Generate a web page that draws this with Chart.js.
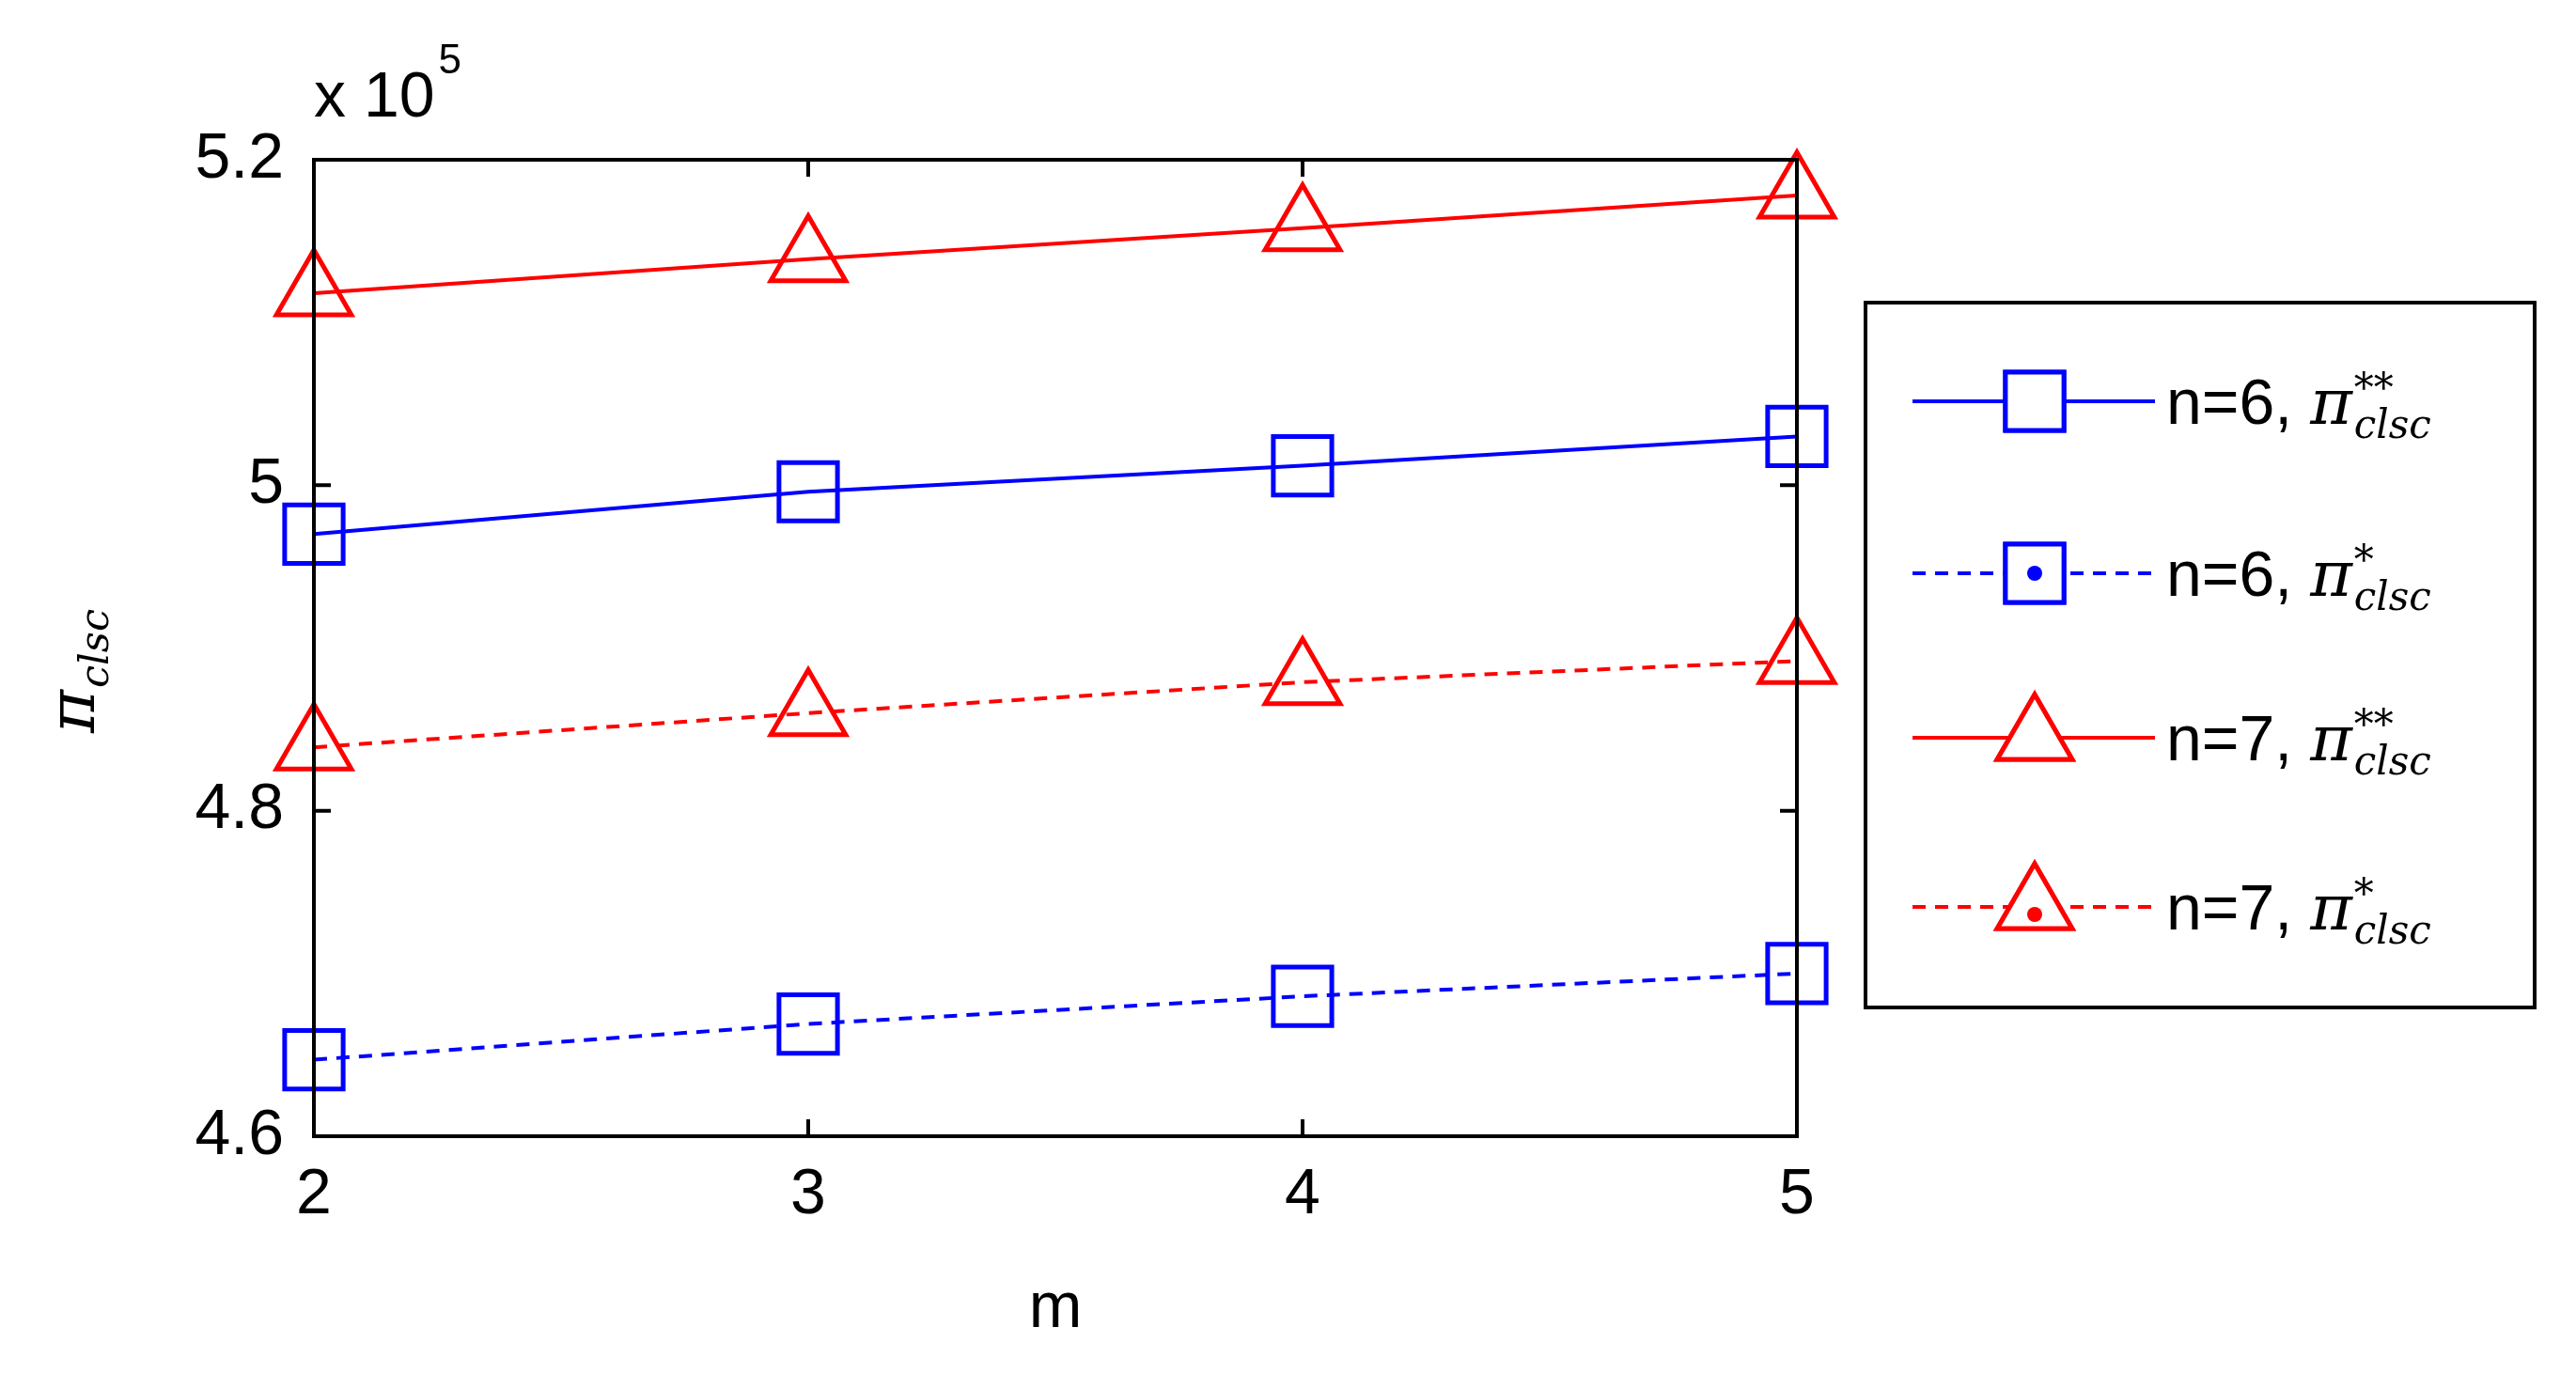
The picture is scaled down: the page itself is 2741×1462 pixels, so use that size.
<!DOCTYPE html>
<html>
<head>
<meta charset="utf-8">
<script src="https://cdn.jsdelivr.net/npm/chart.js@4"></script>
<style>
  html, body { margin: 0; padding: 0; background: #fff; }
  #wrap { width: 2741px; height: 1462px; }
</style>
</head>
<body>
<div id="wrap"><canvas id="chart"></canvas></div>
<script>
const mValues = [2, 3, 4, 5];
const yTicks = [4.6, 4.8, 5.0, 5.2];
const n6Double = [4.970, 4.996, 5.012, 5.030];
const n6Single = [4.647, 4.669, 4.686, 4.700];
const n7Double = [5.118, 5.139, 5.158, 5.178];
const n7Single = [4.839, 4.860, 4.879, 4.892];

const BLUE = "#0000ff";
const RED = "#ff0000";
const TICK_FONT = "68px 'Liberation Sans', Arial, sans-serif";

const seriesInfo = [
  { n: "6", sup: "**", data: n6Double, color: BLUE, dash: [], style: "rect", r: 44 },
  { n: "6", sup: "*", data: n6Single, color: BLUE, dash: [14, 10], style: "rect", r: 44 },
  { n: "7", sup: "**", data: n7Double, color: RED, dash: [], style: "triangle", r: 46 },
  { n: "7", sup: "*", data: n7Single, color: RED, dash: [14, 10], style: "triangle", r: 46 }
];

function drawPi(ctx, x, y, sup, size) {
  ctx.textAlign = "left";
  ctx.textBaseline = "alphabetic";
  ctx.font = "italic " + size + "px 'DejaVu Serif', serif";
  ctx.fillText("π", x, y);
  const w = ctx.measureText("π").width;
  ctx.font = "italic " + Math.round(size * 0.62) + "px 'DejaVu Serif', serif";
  if (sup) ctx.fillText(sup, x + w + 2, y - size * 0.35);
  ctx.fillText("clsc", x + w + 2, y + size * 0.22);
}

const framePlugin = {
  id: "frame",
  afterDraw(chart) {
    const ctx = chart.ctx;
    const a = chart.chartArea;
    const xs = chart.scales.x, ys = chart.scales.y;
    ctx.save();
    ctx.strokeStyle = "#000";
    ctx.lineWidth = 4;
    ctx.setLineDash([]);
    ctx.strokeRect(a.left, a.top, a.right - a.left, a.bottom - a.top);
    const t = 18;
    ctx.beginPath();
    mValues.forEach(v => {
      const px = xs.getPixelForValue(v);
      ctx.moveTo(px, a.bottom); ctx.lineTo(px, a.bottom - t);
      ctx.moveTo(px, a.top); ctx.lineTo(px, a.top + t);
    });
    yTicks.forEach(v => {
      const py = ys.getPixelForValue(v);
      ctx.moveTo(a.left, py); ctx.lineTo(a.left + t, py);
      ctx.moveTo(a.right, py); ctx.lineTo(a.right - t, py);
    });
    ctx.stroke();

    ctx.fillStyle = "#000";
    ctx.font = TICK_FONT;
    ctx.textAlign = "left";
    ctx.textBaseline = "alphabetic";
    ctx.fillText("x 10", a.left, 124);
    const w10 = ctx.measureText("x 10").width;
    ctx.font = "44px 'Liberation Sans', Arial, sans-serif";
    ctx.fillText("5", a.left + w10 + 4, 78);
    ctx.font = TICK_FONT;
    ctx.textAlign = "center";
    ctx.fillText("m", (a.left + a.right) / 2, 1412);
    ctx.save();
    ctx.translate(100, 780);
    ctx.rotate(-Math.PI / 2);
    drawPi(ctx, 0, 0, "", 70);
    ctx.restore();

    // legend
    const bx = 1985, by = 322, bw = 712, bh = 750;
    ctx.lineWidth = 4;
    ctx.strokeRect(bx, by, bw, bh);
    const rows = [427, 610, 785, 965];
    seriesInfo.forEach((s, i) => {
      const y = rows[i];
      ctx.strokeStyle = s.color;
      ctx.fillStyle = s.color;
      ctx.lineWidth = 4;
      ctx.setLineDash(s.dash);
      ctx.beginPath();
      ctx.moveTo(2035, y); ctx.lineTo(2293, y);
      ctx.stroke();
      ctx.setLineDash([]);
      ctx.lineWidth = 5;
      Chart.helpers.drawPoint(ctx, { pointStyle: s.style, radius: s.r, rotation: 0, borderWidth: 5 }, 2165, y);
      ctx.fillStyle = "#fff";
      ctx.fill();
      ctx.stroke();
      if (s.sup === "*") {
        ctx.fillStyle = s.color;
        ctx.beginPath();
        ctx.arc(2165, y + (s.style === "triangle" ? 8 : 0), 8, 0, Math.PI * 2);
        ctx.fill();
      }
      ctx.fillStyle = "#000";
      ctx.font = TICK_FONT;
      ctx.textAlign = "left";
      ctx.textBaseline = "alphabetic";
      const label = "n=" + s.n + ", ";
      ctx.fillText(label, 2305, y + 24);
      const lw = ctx.measureText(label).width;
      drawPi(ctx, 2305 + lw, y + 24, s.sup, 68);
    });
    ctx.restore();
  }
};

new Chart(document.getElementById("chart"), {
  type: "line",
  data: {
    datasets: seriesInfo.map(s => ({
      data: mValues.map((m, i) => ({ x: m, y: s.data[i] })),
      borderColor: s.color,
      backgroundColor: "rgba(0,0,0,0)",
      borderWidth: 4,
      borderDash: s.dash,
      pointStyle: s.style,
      pointRadius: s.r,
      pointBorderWidth: 5,
      pointBorderColor: s.color,
      pointBackgroundColor: "rgba(0,0,0,0)",
      tension: 0,
      clip: false
    }))
  },
  options: {
    responsive: true,
    maintainAspectRatio: false,
    animation: false,
    layout: { padding: { left: 0, right: 829, top: 170, bottom: 0 } },
    plugins: { legend: { display: false }, tooltip: { enabled: false } },
    scales: {
      x: {
        type: "linear", min: 2, max: 5,
        afterFit: s => { s.height = 253; },
        afterBuildTicks: s => { s.ticks = mValues.map(v => ({ value: v })); },
        grid: { display: false },
        border: { display: false },
        ticks: { color: "#000", font: { size: 68, family: "'Liberation Sans', Arial, sans-serif" }, padding: 14, maxRotation: 0 }
      },
      y: {
        type: "linear", min: 4.6, max: 5.2,
        afterFit: s => { s.width = 334; },
        afterBuildTicks: s => { s.ticks = yTicks.map(v => ({ value: v })); },
        grid: { display: false },
        border: { display: false },
        ticks: {
          color: "#000", font: { size: 68, family: "'Liberation Sans', Arial, sans-serif" }, padding: 24,
          callback: v => (v === 5 ? "5" : v.toFixed(1))
        }
      }
    }
  },
  plugins: [framePlugin]
});
</script>
</body>
</html>
